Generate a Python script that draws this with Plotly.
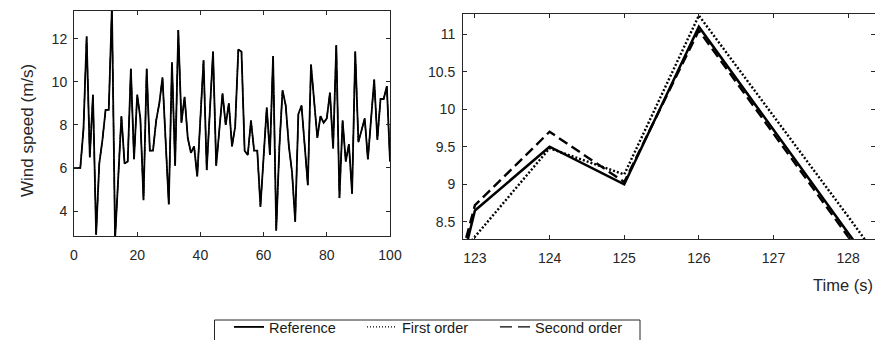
import plotly.graph_objects as go

# Left panel: wind speed over 0..100 s
t_left = list(range(0, 101))
wind_ref = [6.0, 6.0, 6.0, 7.8, 12.1, 6.5, 9.4, 2.9, 6.2, 7.3,
            8.7, 8.7, 13.5, 2.7, 5.8, 8.4, 6.2, 6.3, 10.6, 6.4,
            9.4, 8.3, 4.5, 10.6, 6.8, 6.8, 8.2, 9.0, 10.2, 7.5,
            4.3, 10.9, 6.1, 12.4, 8.1, 9.3, 7.4, 6.7, 7.0, 5.6,
            8.5, 11.0, 5.9, 8.6, 11.4, 6.1, 7.9, 9.45, 8.0, 9.0,
            7.0, 7.9, 11.5, 11.4, 6.8, 6.6, 8.2, 6.8, 6.8, 4.2,
            6.5, 8.8, 6.6, 11.2, 3.1, 7.0, 9.6, 8.9, 7.0, 5.8,
            3.5, 8.5, 8.9, 7.0, 5.2, 10.8, 9.0, 7.4, 8.4, 8.1,
            8.3, 9.5, 6.9, 11.7, 4.6, 8.2, 6.3, 7.1, 4.8, 11.4,
            7.2, 7.8, 8.3, 6.4, 8.3, 10.1, 7.3, 9.2, 9.2, 9.8,
            6.3]
wind_first = wind_ref
wind_second = wind_ref

# Right panel: zoom 122..129 s
t_right = [122, 123, 124, 125, 126, 127, 128, 129]
zoom_ref = [4.6, 8.65, 9.5, 9.0, 11.1, 9.72, 8.35, 7.0]
zoom_first = [7.1, 8.3, 9.48, 9.13, 11.25, 9.91, 8.57, 7.2]
zoom_second = [5.0, 8.72, 9.7, 9.03, 11.05, 9.67, 8.3, 7.0]

left_xticks = [0, 20, 40, 60, 80, 100]
left_yticks = [4, 6, 8, 10, 12]
right_xticks = [123, 124, 125, 126, 127, 128]
right_yticks = [8.5, 9, 9.5, 10, 10.5, 11]
right_yticklabels = ["8.5", "9", "9.5", "10", "10.5", "11"]

FONT = "Liberation Sans, Arial, sans-serif"
AX = "#262626"
W, H = 875, 340

fig = go.Figure()
fig.add_trace(go.Scatter(x=t_left, y=wind_ref, mode="lines", name="Reference",
                         line=dict(color="black", width=1.8), xaxis="x", yaxis="y"))
fig.add_trace(go.Scatter(x=t_left, y=wind_first, mode="lines", name="First order",
                         line=dict(color="black", width=1.2, dash="1px,2px"), xaxis="x", yaxis="y"))
fig.add_trace(go.Scatter(x=t_left, y=wind_second, mode="lines", name="Second order",
                         line=dict(color="black", width=1.2, dash="12px,6px"), xaxis="x", yaxis="y"))

fig.add_trace(go.Scatter(x=t_right, y=zoom_ref, mode="lines", showlegend=False,
                         line=dict(color="black", width=2.5), xaxis="x2", yaxis="y2"))
fig.add_trace(go.Scatter(x=t_right, y=zoom_first, mode="lines", showlegend=False,
                         line=dict(color="black", width=2.4, dash="2px,2px"), xaxis="x2", yaxis="y2"))
fig.add_trace(go.Scatter(x=t_right, y=zoom_second, mode="lines", showlegend=False,
                         line=dict(color="black", width=2.4, dash="10px,5px"), xaxis="x2", yaxis="y2"))

axcommon = dict(showline=True, linecolor=AX, linewidth=1, mirror="ticks",
                ticks="inside", ticklen=4, tickcolor=AX, showgrid=False, zeroline=False,
                automargin=False,
                tickfont=dict(family=FONT, size=14, color=AX))

fig.update_layout(
    width=W, height=H,
    margin=dict(l=0, r=0, t=0, b=0, autoexpand=False),
    paper_bgcolor="white", plot_bgcolor="white",
    font=dict(family=FONT, color=AX),
    xaxis=dict(domain=[74/W, 390/W], range=[0, 100], tickvals=left_xticks,
               ticklabelstandoff=6, anchor="y", **axcommon),
    yaxis=dict(domain=[1-236/H, 1-10.7/H], range=[2.84, 13.3], tickvals=left_yticks,
               ticklabelstandoff=3, anchor="x", **axcommon),
    xaxis2=dict(domain=[463/W, 1.0], range=[122.84, 128.36], tickvals=right_xticks,
                ticklabelstandoff=6, anchor="y2", **axcommon),
    yaxis2=dict(domain=[1-239/H, 1-14/H], range=[8.27, 11.27], tickvals=right_yticks,
                ticktext=right_yticklabels, ticklabelstandoff=4, anchor="x2", **axcommon),
    legend=dict(orientation="h", x=229/W, y=1-311/H, xanchor="left", yanchor="top",
                borderwidth=0, bgcolor="rgba(0,0,0,0)",
                font=dict(family=FONT, size=14.5, color="#1a1a1a"),
                entrywidth=88, entrywidthmode="pixels",
                itemwidth=30, tracegroupgap=0),
    shapes=[dict(type="rect", xref="paper", yref="paper",
                 x0=214.5/W, x1=640/W, y0=-0.05, y1=1-320/H,
                 line=dict(color=AX, width=1), fillcolor="rgba(0,0,0,0)", layer="above")],
    annotations=[
        dict(text="Wind speed (m/s)", x=27/W, y=1-131/H, xref="paper", yref="paper",
             textangle=-90, showarrow=False, font=dict(family=FONT, size=17, color=AX),
             xanchor="center", yanchor="middle"),
        dict(text="Time (s)", x=1.0, y=1-285/H, xref="paper", yref="paper",
             showarrow=False, font=dict(family=FONT, size=16.5, color=AX),
             xanchor="right", yanchor="middle"),
    ],
)

fig.write_html("out.html")
